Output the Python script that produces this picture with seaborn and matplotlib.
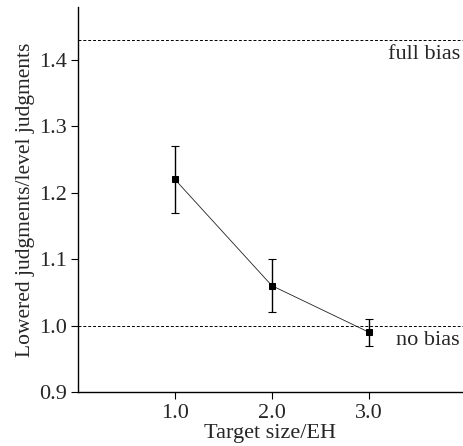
import matplotlib
matplotlib.use("Agg")
import matplotlib.pyplot as plt
import pandas as pd
import seaborn as sns

# Data
target_size = [1.0, 2.0, 3.0]
ratio = [1.22, 1.06, 0.99]
ratio_err = [0.05, 0.04, 0.02]
full_bias = 1.43
no_bias = 1.0

sns.set_style("ticks")
plt.rcParams["font.family"] = ["Liberation Serif", "DejaVu Serif"]

df = pd.DataFrame({"size": target_size, "ratio": ratio, "err": ratio_err})

fig = plt.figure(figsize=(4.63, 4.46), dpi=100)
ax = fig.add_axes([0.168, 0.121, 0.832, 0.863])

# reference lines
ax.axhline(full_bias, color="black", lw=0.7, ls=(0, (3, 2)))
ax.axhline(no_bias, color="black", lw=0.7, ls=(0, (3, 2)))

ax.errorbar(df["size"], df["ratio"], yerr=df["err"], fmt="none",
            ecolor="black", elinewidth=1.0, capsize=3, capthick=0.8)
sns.lineplot(data=df, x="size", y="ratio", ax=ax, color="#222222", lw=0.6,
             marker="s", markersize=4, markerfacecolor="black",
             markeredgecolor="black")

ax.text(3.94, 1.407, "full bias", ha="right", va="center", fontsize=16)
ax.text(3.94, 0.978, "no bias", ha="right", va="center", fontsize=16)

ax.set_xlim(0, 3.97)
ax.set_ylim(0.9, 1.479)
ax.set_xticks(target_size)
ax.set_xticklabels(["1.0", "2.0", "3.0"])
ax.set_yticks([0.9, 1.0, 1.1, 1.2, 1.3, 1.4])
ax.set_yticklabels(["0.9", "1.0", "1.1", "1.2", "1.3", "1.4"])
ax.tick_params(labelsize=16, length=5, width=0.8, direction="out", color="black")
ax.tick_params(axis="y", pad=3)
ax.set_xlabel("Target size/EH", fontsize=16, labelpad=1)
ax.set_ylabel("Lowered judgments/level judgments", fontsize=15.5, labelpad=3)
for side in ["top", "right"]:
    ax.spines[side].set_visible(False)
for side in ["left", "bottom"]:
    ax.spines[side].set_linewidth(1.0)
    ax.spines[side].set_color("black")

fig.savefig("out.png", dpi=100)
